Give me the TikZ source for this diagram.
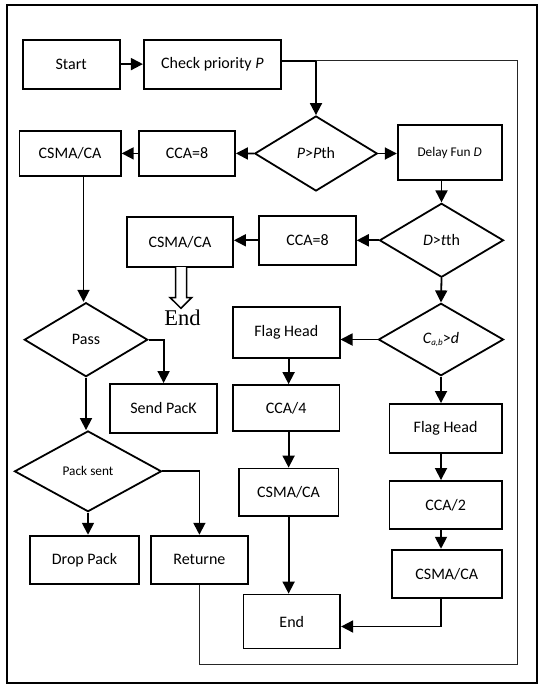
\documentclass[tikz,border=0pt]{standalone}
\usepackage{fontspec}
\setmainfont{Carlito}
\newfontfamily\endserif{Liberation Serif}
\usetikzlibrary{arrows.meta,shapes.geometric}
\begin{document}
\begin{tikzpicture}[x=1pt,y=-1pt,
  box/.style={draw, line width=1.8pt, rectangle, inner sep=0pt, font=\fontsize{16}{19}\selectfont},
  dia/.style={draw, line width=1.8pt, diamond, inner sep=0pt, font=\fontsize{16}{19}\selectfont},
  conn/.style={line width=1.8pt, -{Triangle[length=12pt,width=12pt]}},
  plain/.style={line width=1.8pt},
  loopline/.style={line width=1.5pt, draw=black!85},
  small/.style={font=\fontsize{13.3}{16}\selectfont}
]
\useasboundingbox (0,0) rectangle (544,688);
\draw[line width=1.8pt] (7.3,4.7) rectangle (537.2,682.7);

% boxes
\node[box, minimum width=97pt, minimum height=49pt] (start) at (71.2,64.1) {Start};
\node[box, minimum width=137.2pt, minimum height=49pt] (check) at (212.4,64.1) {Check priority \textit{P}};
\node[box, minimum width=96pt, minimum height=44.7pt] (cca1) at (187,153.4) {CCA=8};
\node[box, minimum width=101.4pt, minimum height=44.7pt] (csma1) at (70.1,153.4) {CSMA/CA};
\node[box, small, minimum width=104pt, minimum height=55pt] (delay) at (449.7,152.8) {Delay Fun \textit{D}};
\node[box, minimum width=96.5pt, minimum height=48.7pt] (cca2) at (307.6,240.3) {CCA=8};
\node[box, minimum width=106pt, minimum height=49.4pt] (csma2) at (180,242) {CSMA/CA};
\node[font=\endserif\fontsize{22.5}{26}\selectfont, inner sep=0pt] (endt) at (182.5,318) {End};
\node[box, minimum width=106.8pt, minimum height=48.7pt] (send) at (163.6,408.3) {Send PacK};
\node[box, minimum width=106.6pt, minimum height=51.6pt] (flag1) at (286.3,332.5) {Flag Head};
\node[box, minimum width=106.5pt, minimum height=46pt] (cca4) at (286.2,408) {CCA/4};
\node[box, minimum width=112.2pt, minimum height=48.7pt] (flag2) at (445.6,428.3) {Flag Head};
\node[box, minimum width=99.6pt, minimum height=47.8pt] (csma3) at (288.6,492.4) {CSMA/CA};
\node[box, minimum width=112.2pt, minimum height=48.3pt] (cca2b) at (445.6,505.1) {CCA/2};
\node[box, minimum width=109.7pt, minimum height=48.7pt] (csma4) at (446.8,574) {CSMA/CA};
\node[box, minimum width=108.7pt, minimum height=48.3pt] (drop) at (84.5,559.8) {Drop Pack};
\node[box, minimum width=96.8pt, minimum height=48.3pt] (ret) at (199.4,559.8) {Returne};
\node[box, minimum width=96.8pt, minimum height=54pt] (end) at (291.8,621.5) {End};

% diamonds
\node[dia, minimum width=122.6pt, minimum height=75pt] (dP) at (316,153.5) {\textit{P}>\textit{P}th};
\node[dia, minimum width=124pt, minimum height=74pt] (dD) at (441.5,240.3) {\textit{D}>\textit{t}th};
\node[dia, minimum width=125pt, minimum height=72.4pt] (dC) at (441,339.5) {\textit{C\raisebox{-0.35ex}{\fontsize{9}{9}\selectfont a,b}}>\textit{d}};
\node[dia, minimum width=123.4pt, minimum height=74pt] (dPass) at (86,339.7) {Pass};
\node[dia, small, minimum width=147pt, minimum height=80.7pt] (dPS) at (88,471.3) {Pack sent};

% loop coordinates
\coordinate (j1) at (316,60.7);
\coordinate (loopbl) at (199.4,664.3);
\coordinate (loopbr) at (517.7,664.3);
\coordinate (looptr) at (517.7,60.7);

% connectors
\draw[conn] (start.east) -- (check.west);
\draw[plain] (check.east |- j1) -- (j1);
\draw[conn] (j1) -- (dP.north);
\draw[loopline] (ret.south) -- (loopbl) -- (loopbr) -- (looptr) -- (j1);
\draw[conn] (dP.west) -- (cca1.east);
\draw[conn] (cca1.west) -- (csma1.east);
\draw[conn] (dP.east) -- (delay.west |- dP.east);
\draw[conn] (dD.north |- delay.south) -- (dD.north);
\draw[conn] (dD.west) -- (cca2.east |- dD.west);
\draw[conn] (cca2.west) -- (csma2.east |- cca2.west);
\draw[conn] (dD.south) -- (dC.north);
\draw[conn] (dC.west) -- (flag1.east |- dC.west);
\draw[conn] (flag1.south -| csma3.north) -- (cca4.north -| csma3.north);
\draw[conn] (cca4.south -| csma3.north) -- (csma3.north);
\draw[conn] (csma3.south) -- (end.north -| csma3.south);
\draw[conn] (dC.south) -- (dC.south |- flag2.north);
\draw[conn] (dC.south |- flag2.south) -- (dC.south |- cca2b.north);
\draw[conn] (dC.south |- cca2b.south) -- (dC.south |- csma4.north);
\draw[conn] (csma4.south -| dC.south) |- ([yshift=-5pt]end.east);
\draw[conn] ([xshift=13.4pt]csma1.south) -- ([xshift=13.4pt]csma1.south |- dPass.north);
\draw[conn] (dPass.east) -| (send.north);
\draw[conn] (dPass.south) -- (dPass.south |- dPS.north);
\draw[conn] (dPS.east) -| (ret.north);
\draw[conn] (dPS.south) -- (dPS.south |- drop.north);

% hollow arrow to End
\draw[line width=1.5pt, fill=white] (175.7,267) -- (175.7,297.5) -- (170,297.5) -- (181,308.3) -- (191.7,297.5) -- (186.5,297.5) -- (186.5,267);
\end{tikzpicture}
\end{document}
